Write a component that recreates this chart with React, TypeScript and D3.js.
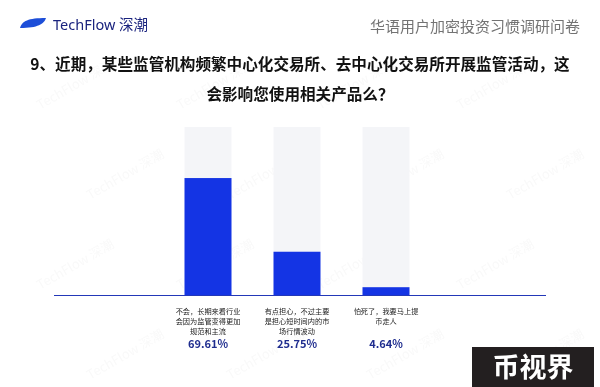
import React from "react";
import * as d3 from "d3";

const categories = ["opt1", "opt2", "opt3"];
const labelLines = [
  ["不会，长期来看行业", "会因为监管变得更加", "规范和主流"],
  ["有点担心，不过主要", "是担心短时间内的市", "场行情波动"],
  ["怕死了，我要马上提", "币走人"],
];
const values = [69.61, 25.75, 4.64];
const valueLabels = ["69.61%", "25.75%", "4.64%"];
const titleLines = [
  "9、近期，某些监管机构频繁中心化交易所、去中心化交易所开展监管活动，这",
  "会影响您使用相关产品么？",
];

const W = 600;
const H = 387;
const FONT = "'Noto Sans CJK SC', 'Noto Sans', sans-serif";

export default function App() {
  const x = d3.scaleBand<string>().domain(categories).range([163.5, 430.5]).paddingInner(0.472).paddingOuter(0.236);
  const y = d3.scaleLinear().domain([0, 100]).range([295, 127]);

  const watermarks: [number, number][] = [];
  for (let r = 0; r < 4; r++) {
    for (let c = 0; c < 4; c++) {
      watermarks.push([40 + c * 140 + (r % 2) * 50, r * 90 + 110]);
    }
  }

  return (
    <svg width={W} height={H} style={{ position: "absolute", left: 0, top: 0, background: "#fff" }} fontFamily={FONT}>
      <rect x={0} y={0} width={W} height={H} fill="#fff" />
      {/* faint watermarks */}
      <g opacity={0.03} fill="#333">
        {watermarks.map(([wx, wy], i) => (
          <text key={i} x={wx} y={wy} fontSize={13} transform={`rotate(-30 ${wx} ${wy})`}>
            TechFlow 深潮
          </text>
        ))}
      </g>
      {/* header */}
      <path d="M20,28 C22,21 28,18 46,18 C44,24 38,28 20,28 Z" fill="#1d4ed8" />
      <text x={53} y={25} dy="0.35em" fontSize={14.5} fill="#1a237e" fontFamily="'Noto Sans', 'Noto Sans CJK SC', sans-serif">
        TechFlow 深潮
      </text>
      <text x={580} y={27} dy="0.35em" fontSize={15} fill="#737373" textAnchor="end">
        华语用户加密投资习惯调研问卷
      </text>
      {/* title */}
      {titleLines.map((t, i) => (
        <text key={i} x={300} y={65 + i * 30} dy="0.35em" fontSize={15.6} fontWeight="bold" fill="#111" textAnchor="middle">
          {t}
        </text>
      ))}
      {/* bars */}
      {categories.map((c, i) => (
        <g key={c}>
          <rect x={x(c)} y={y(100)} width={x.bandwidth()} height={y(0) - y(100)} fill="#f4f5f8" />
          <rect x={x(c)} y={y(values[i])} width={x.bandwidth()} height={y(0) - y(values[i])} fill="#1434e4" />
        </g>
      ))}
      <line x1={54} x2={546} y1={295.5} y2={295.5} stroke="#2338b8" strokeWidth={1.2} />
      {/* labels */}
      {categories.map((c, i) => {
        const cx = (x(c) as number) + x.bandwidth() / 2;
        return (
          <g key={c}>
            {labelLines[i].map((l, j) => (
              <text key={j} x={cx} y={311.5 + j * 10.2} dy="0.35em" fontSize={7.2} fill="#222" textAnchor="middle">
                {l}
              </text>
            ))}
            <text x={cx} y={344} dy="0.35em" fontSize={11} fontWeight="bold" fill="#1f2d8f" textAnchor="middle">
              {valueLabels[i]}
            </text>
          </g>
        );
      })}
      {/* bottom-right badge */}
      <rect x={472} y={347} width={122} height={40} fill="#231f20" />
      <text x={533} y={367} dy="0.36em" fontSize={27} fontWeight="bold" fill="#fff" textAnchor="middle">
        币视界
      </text>
    </svg>
  );
}
